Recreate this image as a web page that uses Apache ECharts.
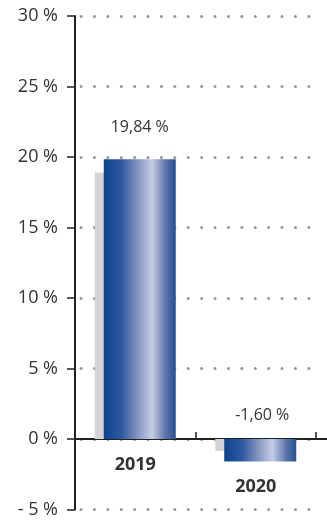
<!DOCTYPE html>
<html><head><meta charset="utf-8">
<script src="https://cdn.jsdelivr.net/npm/echarts@6/dist/echarts.min.js"></script>
<style>html,body{margin:0;padding:0;background:#fff}#c{width:327px;height:520px}</style>
</head><body><div id="c"></div>
<script>
const categories = ['2019', '2020'];
const values = [19.84, -1.60];
const shadowValues = [18.9, -0.85];
const yTicks = [-5, 0, 5, 10, 15, 20, 25, 30];

const FONT = '"Open Sans", sans-serif';
const fmt = v => v.toFixed(2).replace('.', ',') + ' %';
const chart = echarts.init(document.getElementById('c'), null, {renderer: 'canvas'});
const grad = new echarts.graphic.LinearGradient(0, 0, 1, 0, [
  {offset: 0, color: '#0c4290'},
  {offset: 0.25, color: '#2f5a9f'},
  {offset: 0.45, color: '#7c90bd'},
  {offset: 0.67, color: '#c6cce4'},
  {offset: 0.86, color: '#5d74aa'},
  {offset: 1, color: '#264f93'}
]);
chart.setOption({
  animation: false,
  grid: {left: 75, right: 11, top: 16, bottom: 10.5, containLabel: false, outerBoundsMode: 'none'},
  xAxis: {
    type: 'category', data: categories,
    offset: -70.5,
    axisLine: {onZero: false, lineStyle: {color: '#222', width: 2}},
    axisTick: {show: true, inside: true, length: 7, lineStyle: {color: '#222', width: 1.5}},
    axisLabel: {
      margin: 17,
      formatter: v => v === '2020' ? '{b|' + v + '}' : '{a|' + v + '}',
      rich: {
        a: {fontFamily: FONT, fontSize: 18, fontWeight: 'bold', color: '#333'},
        b: {fontFamily: FONT, fontSize: 18, fontWeight: 'bold', color: '#333', padding: [22, 0, 0, 0]}
      }
    }
  },
  yAxis: {
    type: 'value', min: -5, max: 30, interval: 5,
    axisLine: {show: true, onZero: false, lineStyle: {color: '#222', width: 2}},
    axisTick: {show: true, length: 8, lineStyle: {color: '#222', width: 1.5}},
    axisLabel: {
      margin: 17, fontFamily: FONT, fontSize: 18, color: '#333',
      formatter: v => (v < 0 ? '- ' + Math.abs(v) : v) + ' %'
    },
    splitLine: {show: true, lineStyle: {color: '#999', width: 3, type: [0.1, 13.3], cap: 'round', dashOffset: -6}}
  },
  series: [
    {
      type: 'bar', data: shadowValues, barWidth: 72, barGap: '-87.5%',
      itemStyle: {color: '#d4d4d4'}, silent: true, z: 1
    },
    {
      type: 'bar', data: values.map((v, i) => ({
        value: v,
        label: v < 0 ? {position: 'insideBottom', distance: 0, offset: [2, -38]} : {position: 'top', distance: 24}
      })),
      barWidth: 72, z: 2,
      itemStyle: {color: grad},
      label: {show: true, fontFamily: FONT, fontSize: 16, color: '#333', formatter: p => fmt(p.value)}
    }
  ]
});
// extend the zero baseline to the right edge, as in the reference
const zeroY = chart.convertToPixel({yAxisIndex: 0}, 0);
const rightX = chart.convertToPixel({xAxisIndex: 0}, 1) + 60;
chart.setOption({
  graphic: [{type: 'line', shape: {x1: rightX, y1: zeroY, x2: 327, y2: zeroY}, style: {stroke: '#222', lineWidth: 2}, z: 10}]
});
</script></body></html>
